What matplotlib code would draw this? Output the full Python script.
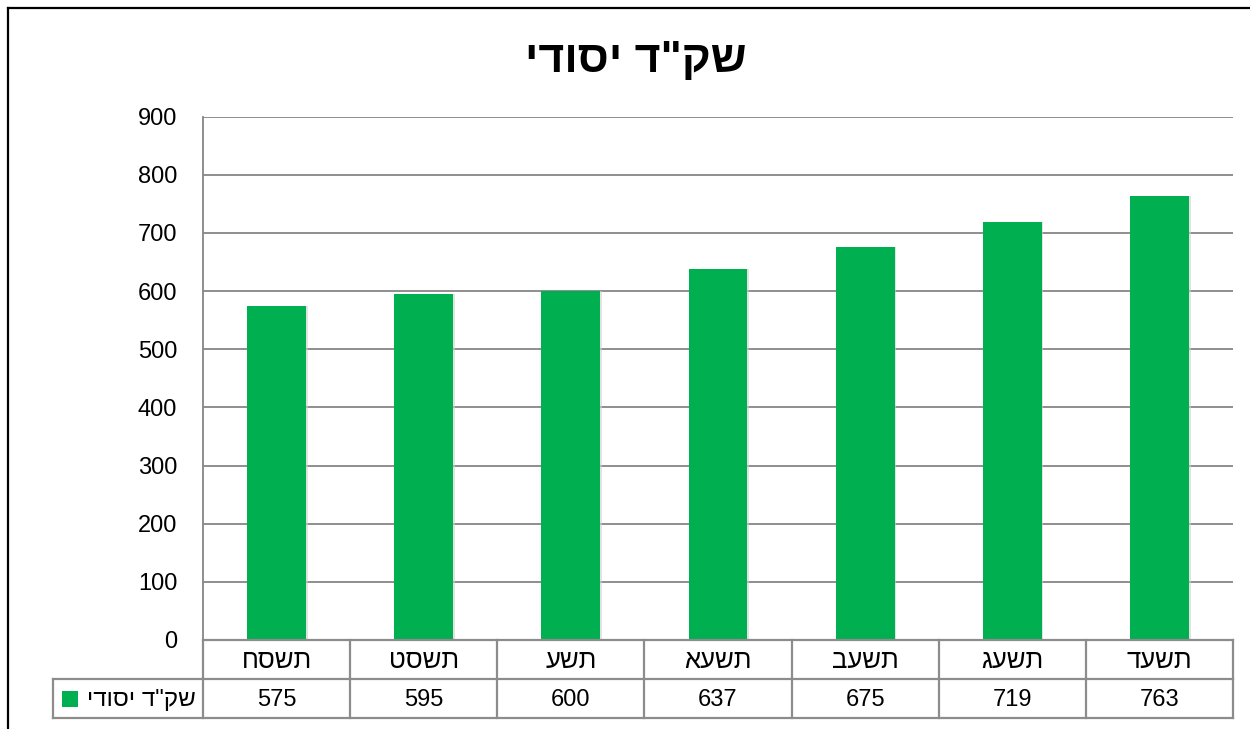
import matplotlib
matplotlib.use("Agg")
import matplotlib.pyplot as plt
from matplotlib.patches import Rectangle
from matplotlib.lines import Line2D

# ---- data ----
title = 'שק"ד יסודי'
series_name = 'שק"ד יסודי'
categories = ['תשסח', 'תשסט', 'תשע', 'תשעא', 'תשעב', 'תשעג', 'תשעד']
values = [575, 595, 600, 637, 675, 719, 763]
yticks = [0, 100, 200, 300, 400, 500, 600, 700, 800, 900]

def vis(s):
    # visual order for right-to-left Hebrew text
    return s[::-1]

FONT = ['Liberation Sans', 'DejaVu Sans']
plt.rcParams['font.family'] = FONT

W, H = 1250, 729
fig = plt.figure(figsize=(W / 100, H / 100), dpi=100)

def fx(px):
    return px / W

def fy(py):
    return 1 - py / H

GREEN = '#00B050'
GRID = '#868686'
TABLE = '#8C8C8C'

# outer chart border (top and left visible)
fig.add_artist(Line2D([fx(7.5), fx(1252)], [fy(7.5), fy(7.5)], color='black', lw=1.6,
                      transform=fig.transFigure))
fig.add_artist(Line2D([fx(7.5), fx(7.5)], [fy(7.5), fy(732)], color='black', lw=1.6,
                      transform=fig.transFigure))

# plot area
L, R, T, B = 203, 1233, 116.5, 640
ax = fig.add_axes([fx(L), fy(B), fx(R) - fx(L), fy(T) - fy(B)])
x = list(range(len(categories)))
ax.set_xlim(-0.5, len(categories) - 0.5)
ax.set_ylim(0, 900)
ax.set_yticks(yticks)
ax.set_yticklabels([str(v) for v in yticks], fontsize=17)
ax.tick_params(axis='y', length=0, pad=18.5)
ax.set_xticks([])
for s in ['top', 'right', 'bottom']:
    ax.spines[s].set_visible(False)
ax.spines['left'].set_color(GRID)
ax.spines['left'].set_linewidth(1.3)
ax.yaxis.grid(True, color=GRID, lw=1.3)
ax.set_axisbelow(True)

# subtle shadows then bars
ax.bar([i + 0.012 for i in x], values, width=0.40, color='#d0d0d0', alpha=0.6, zorder=2)
ax.bar(x, values, width=0.40, color=GREEN, zorder=3)

# title
fig.text(fx(636), fy(60), vis(title), ha='center', va='center', fontsize=32,
         fontweight='bold', color='black')

# data table
TB = 718
tab = fig.add_axes([fx(L), fy(TB), fx(R) - fx(L), fy(B) - fy(TB)])
tab.set_xlim(-0.5, len(categories) - 0.5)
tab.set_ylim(0, 2)
tab.axis('off')
colw = (R - L) / len(categories)
left_edge = -0.5 - (L - 53) / colw
lkw = dict(color=TABLE, lw=1.6, clip_on=False, solid_capstyle='projecting')
# horizontal lines
tab.plot([-0.5, 6.5], [2, 2], **lkw)
tab.plot([left_edge, 6.5], [1, 1], **lkw)
tab.plot([left_edge, 6.5], [0, 0], **lkw)
# vertical lines
tab.plot([left_edge, left_edge], [0, 1], **lkw)
for i in range(len(categories) + 1):
    tab.plot([i - 0.5, i - 0.5], [0, 2], **lkw)
for i, (c, v) in enumerate(zip(categories, values)):
    tab.text(i, 1.45, vis(c), ha='center', va='center', fontsize=18.5, color='black')
    tab.text(i, 0.47, str(v), ha='center', va='center', fontsize=17, color='black')
# legend cell
tab.text(-0.5 - 7 / colw, 0.47, vis(series_name), ha='right', va='center', fontsize=17.5,
         color='black')
tab.add_patch(Rectangle((left_edge + 9 / colw, 0.5 - 8 / 39), 16 / colw, 16 / 39,
                        facecolor=GREEN, edgecolor='none', clip_on=False,
                        transform=tab.transData))

fig.savefig('out.png', dpi=100)
